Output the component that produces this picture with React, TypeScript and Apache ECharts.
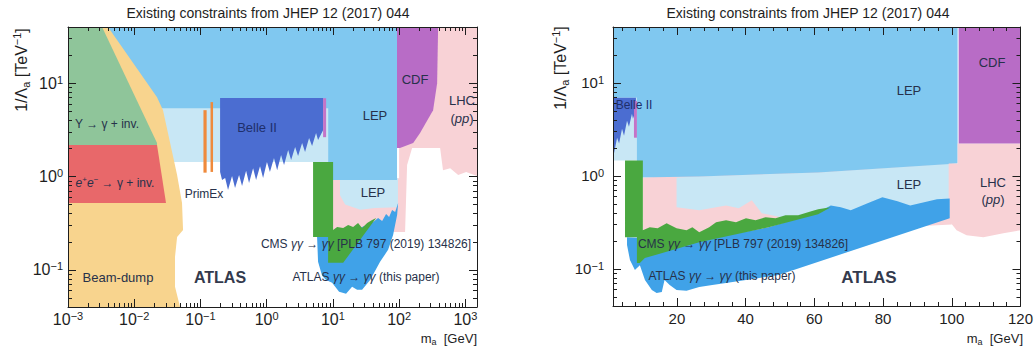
import { useEffect, useRef } from 'react';
import * as echarts from 'echarts';

const FONT = '"Liberation Sans", Arial, Helvetica, sans-serif';
const INK = '#1e1e1e';
const LABEL_INK = '#27314a';

// ---------- Left panel (log mass axis): outlines as [m_a (GeV), 1/Λ_a (TeV^-1)] ----------
const lhcLog = [[10, 0.96], [100, 0.96], [100, 40], [1500, 40], [1500, 1.01], [1030, 1.12], [780, 1.04], [590, 1.23], [460, 1.17], [416, 2.02], [157, 2.02], [132, 1.33], [123, 0.255], [10, 0.255]];
const lepPaleLog = [[0.0173, 6.6], [9.1, 6.6], [9.1, 1.43], [0.0173, 1.43]];
const lepPale2Log = [[12.8, 0.96], [96, 0.96], [96, 0.47], [43, 0.46], [26, 0.44], [15.3, 0.5], [12.8, 0.63]];
const lepLog = [[0.003, 40], [93, 40], [93, 0.92], [8.5, 0.92], [8.5, 5.4], [0.0173, 5.4]];
const beamDumpLog = [[0.001, 40], [0.00402, 40], [0.0221, 7.08], [0.0272, 5.14], [0.0444, 1.04], [0.0527, 0.521], [0.0546, 0.268], [0.0444, 0.225], [0.0413, 0.138], [0.0413, 0.0658], [0.0492, 0.04], [0.001, 0.04]];
const upsilonLog = [[0.001, 40], [0.00327, 40], [0.0221, 2.28], [0.0221, 2.17], [0.001, 2.17]];
const eeLog = [[0.001, 2.17], [0.0221, 2.17], [0.0302, 0.521], [0.001, 0.521]];
const primEx1Log = [[0.111, 5.14], [0.124, 5.14], [0.124, 1.1], [0.111, 1.1]];
const primEx2Log = [[0.142, 6.27], [0.155, 6.27], [0.155, 1.12], [0.142, 1.12]];
const belleLog = [[0.198, 6.92], [7.11, 6.92], [7.11, 3.14], [5.97, 2.46], [5.57, 2.92], [4.85, 2.12], [4.37, 2.58], [3.8, 1.83], [3.43, 2.28], [2.98, 1.66], [2.69, 2.07], [2.34, 1.5], [2.11, 1.92], [1.83, 1.33], [1.65, 1.7], [1.44, 1.17], [1.29, 1.58], [1.12, 1.12], [1.01, 1.43], [0.883, 0.964], [0.794, 1.29], [0.692, 0.918], [0.624, 1.23], [0.542, 0.851], [0.489, 1.15], [0.425, 0.791], [0.383, 1.04], [0.333, 0.753], [0.3, 1.01], [0.261, 0.718], [0.236, 0.964], [0.212, 0.918], [0.198, 1.12]];
const belleEdgeLog = [[7.11, 6.9], [7.9, 6.9], [7.9, 2.64], [7.11, 2.64]];
const cdfLog = [[93, 40], [388, 40], [375, 10], [326, 5.14], [207, 2.92], [163, 2.28], [103, 2.02], [93, 2.02]];
const atlasLog = [[5.77, 0.225], [12.8, 0.225], [40.5, 0.326], [48.2, 0.36], [55.4, 0.334], [63.6, 0.397], [70.6, 0.369], [78.3, 0.438], [87.1, 0.417], [96.6, 0.521], [93.3, 0.388], [81.1, 0.237], [68.2, 0.164], [51.6, 0.122], [36.5, 0.0781], [27.6, 0.0611], [23.2, 0.0611], [19.5, 0.0658], [15.8, 0.0553], [12.4, 0.0582], [9.73, 0.0726], [7.89, 0.0781], [6.87, 0.0863], [5.97, 0.122]];
const cmsLog = [[5.02, 1.43], [10.07, 1.43], [10.07, 0.268], [11.6, 0.288], [14.3, 0.281], [17.0, 0.303], [20.2, 0.288], [24.0, 0.318], [27.6, 0.281], [32.9, 0.318], [39.1, 0.343], [45.0, 0.36], [14.3, 0.119], [8.46, 0.119], [8.46, 0.225], [5.02, 0.225]];

// ---------- Right panel (linear mass axis) ----------
const lhcLowLin = [[10.1, 0.964], [100, 1.36], [100, 0.3], [10.1, 0.204]];
const lepPale1Lin = [[1.4, 6.92], [10.66, 6.92], [10.66, 1.47], [1.4, 1.47]];
const lepPale2Lin = [[19.9, 0.964], [26.5, 0.99], [61.1, 1.09], [100, 1.36], [100, 0.483], [64, 0.407], [59.1, 0.378], [55.3, 0.334], [50.4, 0.36], [44.7, 0.397], [41.8, 0.547], [38, 0.449], [34.3, 0.483], [26.5, 0.428], [19.9, 0.46]];
const lepLin = [[1.4, 40], [101.7, 40], [101.7, 1.36], [61.1, 1.09], [26.5, 0.99], [8.36, 0.964], [8.36, 6.92], [1.4, 6.92]];
const belleLin = [[1.4, 6.92], [8.07, 6.92], [8.07, 5.02], [7.2, 4.12], [6.92, 4.66], [6.05, 3.38], [5.48, 3.93], [4.61, 2.71], [4.03, 3.22], [3.17, 2.23], [2.59, 2.58], [1.73, 1.78], [1.4, 1.78]];
const belleEdgeLin = [[7.5, 6.42], [8.36, 6.42], [8.36, 2.58], [7.5, 2.58]];
const lhcLin = [[99.1, 1.36], [101.7, 1.36], [101.7, 2.23], [120, 2.23], [120, 0.261], [115, 0.243], [109.2, 0.22], [104.3, 0.231], [101.4, 0.261], [99.1, 0.334]];
const cdfLin = [[102, 40], [120, 40], [120, 2.23], [102, 2.23]];
const atlasLin = [[5.48, 0.22], [26.5, 0.204], [46.7, 0.281], [61.1, 0.407], [64.8, 0.483], [67.7, 0.46], [70.6, 0.428], [75.5, 0.508], [79.8, 0.589], [84.2, 0.534], [87.9, 0.483], [95.7, 0.561], [99.4, 0.574], [99.4, 0.351], [49.6, 0.0863], [40.1, 0.0763], [34.3, 0.0708], [30.3, 0.0674], [26.5, 0.0641], [22.8, 0.0582], [19.9, 0.0596], [17.9, 0.0674], [16.4, 0.0763], [15.6, 0.0567], [14.1, 0.0553], [12.7, 0.0596], [10.7, 0.0763], [9.22, 0.11], [7.78, 0.0975], [6.34, 0.125], [5.48, 0.181]];
const cmsLin = [[4.9, 1.47], [10.09, 1.47], [10.09, 0.261], [12.1, 0.281], [14.4, 0.275], [17.0, 0.311], [19.9, 0.275], [22.8, 0.261], [24.5, 0.281], [26.5, 0.249], [29.4, 0.281], [31.4, 0.318], [34.3, 0.334], [37.2, 0.318], [40.1, 0.351], [42.9, 0.334], [45.8, 0.36], [48.7, 0.351], [51.6, 0.378], [55.3, 0.378], [59.1, 0.417], [61.1, 0.438], [64.8, 0.46], [61.1, 0.388], [46.7, 0.281], [26.5, 0.194], [10.66, 0.131], [9.22, 0.116], [8.36, 0.116], [8.36, 0.22], [4.9, 0.22]];

// ---------- Axis ticks ----------
const logMajorX = [0.001, 0.01, 0.1, 1, 10, 100, 1000];
const logMajorY = [0.1, 1, 10];
const linMajorX = [20, 40, 60, 80, 100, 120];
const linMinorX = [4, 8, 12, 16, 24, 28, 32, 36, 44, 48, 52, 56, 64, 68, 72, 76, 84, 88, 92, 96, 104, 108, 112, 116];

const minorLog = (lo: number, hi: number) => {
  const out: number[] = [];
  for (let e = Math.floor(Math.log10(lo)); e <= Math.ceil(Math.log10(hi)); e++) {
    for (let d = 2; d <= 9; d++) {
      const v = d * Math.pow(10, e);
      if (v > lo && v < hi) out.push(v);
    }
  }
  return out;
};

const COLORS = {
  lep: '#80c8f0',
  lepPale: '#c8e7f5',
  belle: '#4b6dd1',
  belleEdge: '#c474c8',
  beamDump: '#f8d48e',
  upsilon: '#8fc59a',
  ee: '#e8686a',
  primEx: '#ef8a3c',
  cdf: '#b86cc6',
  lhc: '#f8d2d6',
  atlas: '#40a2e8',
  cms: '#4aa840',
};

const pow10 = (v: number) => {
  const e = Math.round(Math.log10(v));
  return `{b|10}{s|${e < 0 ? '\u2212' + -e : e}}`;
};

const powRich = (size: number) => ({
  b: { fontSize: size, fontFamily: FONT, color: INK, lineHeight: size + 2 },
  s: { fontSize: Math.round(size * 0.7), fontFamily: FONT, color: INK, lineHeight: 8, verticalAlign: 'top' },
});

const textRich = (size: number, fill: string) => ({
  n: { fontSize: size, fontFamily: FONT, fill, lineHeight: size + 4 },
  i: { fontSize: size, fontFamily: FONT, fill, fontStyle: 'italic', lineHeight: size + 4 },
  sup: { fontSize: Math.round(size * 0.7), fontFamily: FONT, fill, lineHeight: Math.round(size * 0.45), verticalAlign: 'top' },
  sub: { fontSize: Math.round(size * 0.7), fontFamily: FONT, fill, lineHeight: Math.round(size * 0.45), verticalAlign: 'bottom' },
});

function buildOption() {
  const axisBase = { z: 50, splitLine: { show: false }, minorTick: { show: false }, minorSplitLine: { show: false } };
  const tick = (vals: number[], len: number) => ({ show: true, inside: true, length: len, customValues: vals, lineStyle: { color: INK, width: 1 } });
  const line = (show: boolean) => ({ show, onZero: false, lineStyle: { color: INK, width: 1 } });

  const xAxes: any[] = [];
  const yAxes: any[] = [];

  // left panel: log x
  const lx = { type: 'log', logBase: 10, min: 0.001, max: 1500, gridIndex: 0 };
  const lxMinor = minorLog(0.001, 1500);
  xAxes.push({ ...axisBase, ...lx, position: 'bottom', axisLine: line(true), axisTick: tick(logMajorX, 8),
    axisLabel: { customValues: logMajorX, formatter: pow10, rich: powRich(16), margin: 3 } });
  xAxes.push({ ...axisBase, ...lx, position: 'bottom', axisLine: line(false), axisTick: tick(lxMinor, 4), axisLabel: { show: false } });
  xAxes.push({ ...axisBase, ...lx, position: 'top', axisLine: line(true), axisTick: tick(logMajorX, 8), axisLabel: { show: false } });
  xAxes.push({ ...axisBase, ...lx, position: 'top', axisLine: line(false), axisTick: tick(lxMinor, 4), axisLabel: { show: false } });

  // right panel: linear x
  const rx = { type: 'value', min: 1.4, max: 120, gridIndex: 1 };
  xAxes.push({ ...axisBase, ...rx, position: 'bottom', axisLine: line(true), axisTick: tick(linMajorX, 8),
    axisLabel: { customValues: linMajorX, color: INK, fontSize: 15, fontFamily: FONT, margin: 5 } });
  xAxes.push({ ...axisBase, ...rx, position: 'bottom', axisLine: line(false), axisTick: tick(linMinorX, 4), axisLabel: { show: false } });
  xAxes.push({ ...axisBase, ...rx, position: 'top', axisLine: line(true), axisTick: tick(linMajorX, 8), axisLabel: { show: false } });
  xAxes.push({ ...axisBase, ...rx, position: 'top', axisLine: line(false), axisTick: tick(linMinorX, 4), axisLabel: { show: false } });

  const yMinor = minorLog(0.04, 40);
  [0, 1].forEach((g) => {
    const ly = { type: 'log', logBase: 10, min: 0.04, max: 40, gridIndex: g };
    yAxes.push({ ...axisBase, ...ly, position: 'left', axisLine: line(true), axisTick: tick(logMajorY, 8),
      axisLabel: { customValues: logMajorY, formatter: pow10, rich: powRich(g === 0 ? 16 : 15), margin: g === 0 ? 5 : 9 } });
    yAxes.push({ ...axisBase, ...ly, position: 'left', axisLine: line(false), axisTick: tick(yMinor, 4), axisLabel: { show: false } });
    yAxes.push({ ...axisBase, ...ly, position: 'right', axisLine: line(true), axisTick: tick(logMajorY, 8), axisLabel: { show: false } });
    yAxes.push({ ...axisBase, ...ly, position: 'right', axisLine: line(false), axisTick: tick(yMinor, 4), axisLabel: { show: false } });
  });

  let zi = 1;
  const region = (name: string, pts: number[][], color: string, panel: number) => ({
    name,
    type: 'custom',
    coordinateSystem: 'cartesian2d',
    xAxisIndex: panel * 4,
    yAxisIndex: panel * 4,
    silent: true,
    clip: true,
    z: zi++,
    data: pts,
    renderItem: (params: any, api: any) => {
      if (params.dataIndex !== 0) return null;
      return { type: 'polygon', shape: { points: pts.map((p) => api.coord(p)) }, style: { fill: color } };
    },
  });

  const series = [
    region('LHC', lhcLog, COLORS.lhc, 0),
    region('LEP pale', lepPaleLog, COLORS.lepPale, 0),
    region('LEP pale 2', lepPale2Log, COLORS.lepPale, 0),
    region('LEP', lepLog, COLORS.lep, 0),
    region('Beam-dump', beamDumpLog, COLORS.beamDump, 0),
    region('Upsilon', upsilonLog, COLORS.upsilon, 0),
    region('ee', eeLog, COLORS.ee, 0),
    region('PrimEx 1', primEx1Log, COLORS.primEx, 0),
    region('PrimEx 2', primEx2Log, COLORS.primEx, 0),
    region('Belle II', belleLog, COLORS.belle, 0),
    region('Belle II edge', belleEdgeLog, COLORS.belleEdge, 0),
    region('CDF', cdfLog, COLORS.cdf, 0),
    region('ATLAS', atlasLog, COLORS.atlas, 0),
    region('CMS', cmsLog, COLORS.cms, 0),

    region('LHC low', lhcLowLin, COLORS.lhc, 1),
    region('LEP pale 1', lepPale1Lin, COLORS.lepPale, 1),
    region('LEP pale 2', lepPale2Lin, COLORS.lepPale, 1),
    region('LEP', lepLin, COLORS.lep, 1),
    region('Belle II', belleLin, COLORS.belle, 1),
    region('Belle II edge', belleEdgeLin, COLORS.belleEdge, 1),
    region('LHC', lhcLin, COLORS.lhc, 1),
    region('CDF', cdfLin, COLORS.cdf, 1),
    region('ATLAS', atlasLin, COLORS.atlas, 1),
    region('CMS', cmsLin, COLORS.cms, 1),
  ];

  const txt = (x: number, y: number, text: string, size: number, extra: any = {}) => ({
    type: 'text', x, y, z: 60, silent: true,
    style: { text, fill: LABEL_INK, fontSize: size, fontFamily: FONT, align: 'center', verticalAlign: 'middle', rich: textRich(size, extra.fill || LABEL_INK), ...extra },
  });

  const title = 'Existing constraints from JHEP 12 (2017) 044';
  const yName = '{n|1/\u039b}{sub|a}{n| [TeV}{sup|\u22121}{n|]}';
  const xName = '{n|m}{sub|a}{n|  [GeV]}';
  const cmsText = '{n|CMS }{i|\u03b3\u03b3}{n| \u2192 }{i|\u03b3\u03b3}{n| [PLB 797 (2019) 134826]}';
  const atlasText = '{n|ATLAS }{i|\u03b3\u03b3}{n| \u2192 }{i|\u03b3\u03b3}{n| (this paper)}';
  const ppText = '{n|(}{i|pp}{n|)}';

  const graphic = [
    txt(268, 13, title, 14, { fill: INK }),
    txt(808, 13, title, 14, { fill: INK }),
    { ...txt(21, 70, yName, 16, { fill: INK }), rotation: Math.PI / 2 },
    { ...txt(560, 68, yName, 16, { fill: INK }), rotation: Math.PI / 2 },
    txt(477, 338, xName, 13, { fill: INK, align: 'right' }),
    txt(1023, 338, xName, 13, { fill: INK, align: 'right' }),

    txt(107, 124, '{n|\u03a5 \u2192 \u03b3 + inv.}', 12),
    txt(115, 183, '{i|e}{sup|+}{i|e}{sup|\u2212}{n| \u2192 \u03b3 + inv.}', 12),
    txt(204, 194, 'PrimEx', 12),
    txt(118, 277, 'Beam-dump', 13),
    txt(220, 277, 'ATLAS', 16, { fontWeight: 'bold', fill: '#333a4d' }),
    txt(257, 127, 'Belle II', 13, { fill: '#1e2f6b' }),
    txt(375, 115, 'LEP', 13),
    txt(415, 79, 'CDF', 13),
    txt(462, 100, 'LHC', 13),
    txt(462, 118, ppText, 13),
    txt(373, 192, 'LEP', 13),
    txt(366, 244, cmsText, 12),
    txt(366, 277, atlasText, 12),

    txt(634, 105, 'Belle II', 12, { fill: '#1e2f6b' }),
    txt(909, 90, 'LEP', 13),
    txt(992, 62, 'CDF', 13),
    txt(909, 184, 'LEP', 13),
    txt(993, 182, 'LHC', 13),
    txt(993, 199, ppText, 13),
    txt(743, 244, cmsText, 12),
    txt(722, 276, atlasText, 12),
    txt(869, 277, 'ATLAS', 17, { fontWeight: 'bold', fill: '#333a4d' }),
  ];

  return {
    animation: false,
    backgroundColor: '#ffffff',
    grid: [
      { left: 68, top: 27, width: 409, height: 280 },
      { left: 613, top: 27, width: 410, height: 279 },
    ],
    xAxis: xAxes,
    yAxis: yAxes,
    series,
    graphic,
  };
}

export default function App() {
  const ref = useRef<HTMLDivElement>(null);
  useEffect(() => {
    if (!ref.current) return;
    const chart = echarts.init(ref.current, undefined, { renderer: 'svg' });
    chart.setOption(buildOption() as any);
    return () => chart.dispose();
  }, []);
  return <div ref={ref} style={{ position: 'fixed', left: 0, top: 0, width: 1036, height: 349, background: '#fff' }} />;
}
